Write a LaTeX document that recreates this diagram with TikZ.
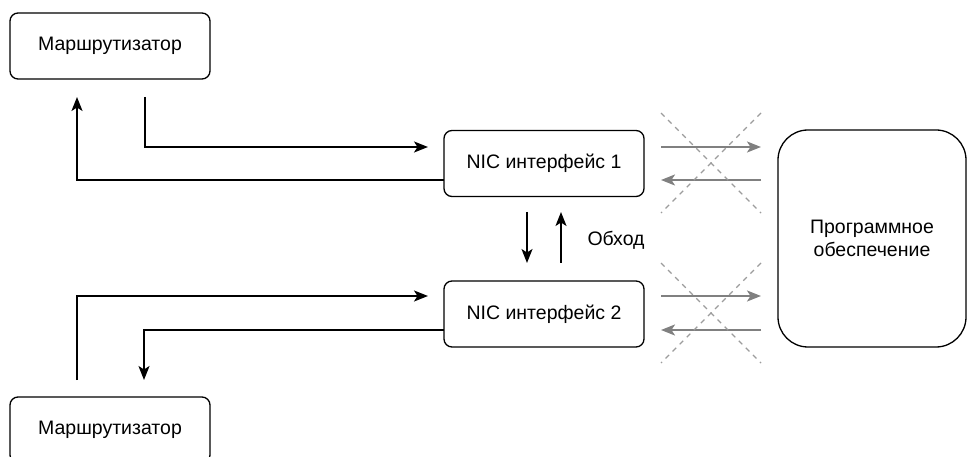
\documentclass[tikz,border=0pt]{standalone}
\usepackage{fontspec}
\setmainfont{Liberation Sans}
\usetikzlibrary{arrows.meta}
\definecolor{garr}{HTML}{808080}
\definecolor{gdash}{HTML}{9C9C9C}
\tikzset{
  lbl/.style={font=\fontsize{19.5}{23}\selectfont},
  box/.style={draw=black, line width=1.3pt, rounded corners=8pt, minimum width=200pt, minimum height=66pt, inner sep=0pt, lbl},
  arr/.style={draw=black, line width=1.5pt, -{Stealth[length=14pt,width=11pt,inset=3.5pt]}},
  garrow/.style={draw=garr, line width=1.6pt, -{Stealth[length=14pt,width=11pt,inset=3.5pt]}},
  xdash/.style={draw=gdash, line width=1.2pt, dash pattern=on 5pt off 5pt},
}
\begin{document}
\begin{tikzpicture}[x=1pt,y=-1pt]
\useasboundingbox (0,0) rectangle (967,457);
\node[box] (r1) at (110,46) {Маршрутизатор};
\node[box] (r2) at (110,430) {Маршрутизатор};
\node[box] (n1) at (544,163.5) {NIC интерфейс 1};
\node[box] (n2) at (544,314) {NIC интерфейс 2};
\node[box, rounded corners=30pt, minimum width=188pt, minimum height=217pt, align=center] (sw) at (872,238.5) {Программное\\обеспечение};
\node[lbl, anchor=west] (byp) at (584,240) {Обход};

% router 1 <-> NIC 1
\coordinate (a1) at (145,97);
\coordinate (a2) at (428,147);
\draw[arr] (a1) |- (a2);
\coordinate (b1) at (444,180);
\coordinate (b2) at (77,97);
\draw[arr] (b1) -| (b2);

% router 2 <-> NIC 2
\coordinate (c1) at (77,380);
\coordinate (c2) at (428,296);
\draw[arr] (c1) |- (c2);
\coordinate (d1) at (444,330);
\coordinate (d2) at (144,380);
\draw[arr] (d1) -| (d2);

% bypass
\coordinate (e1) at (527,212);
\coordinate (e2) at (527,263);
\draw[arr] (e1) -- (e2);
\coordinate (f1) at (561,263);
\coordinate (f2) at (561,212);
\draw[arr] (f1) -- (f2);

% gray arrows to software (blocked)
\coordinate (g1) at (661,147);
\coordinate (g2) at (761,147);
\draw[garrow] (g1) -- (g2);
\coordinate (h1) at (761,180);
\coordinate (h2) at (661,180);
\draw[garrow] (h1) -- (h2);
\coordinate (i1) at (661,296);
\coordinate (i2) at (761,296);
\draw[garrow] (i1) -- (i2);
\coordinate (j1) at (761,330);
\coordinate (j2) at (661,330);
\draw[garrow] (j1) -- (j2);

% crosses
\coordinate (k1) at (661,113);
\coordinate (k2) at (761,213);
\coordinate (k3) at (761,113);
\coordinate (k4) at (661,213);
\draw[xdash] (k1) -- (k2);
\draw[xdash] (k3) -- (k4);
\coordinate (l1) at (661,263);
\coordinate (l2) at (761,363);
\coordinate (l3) at (761,263);
\coordinate (l4) at (661,363);
\draw[xdash] (l1) -- (l2);
\draw[xdash] (l3) -- (l4);
\end{tikzpicture}
\end{document}
